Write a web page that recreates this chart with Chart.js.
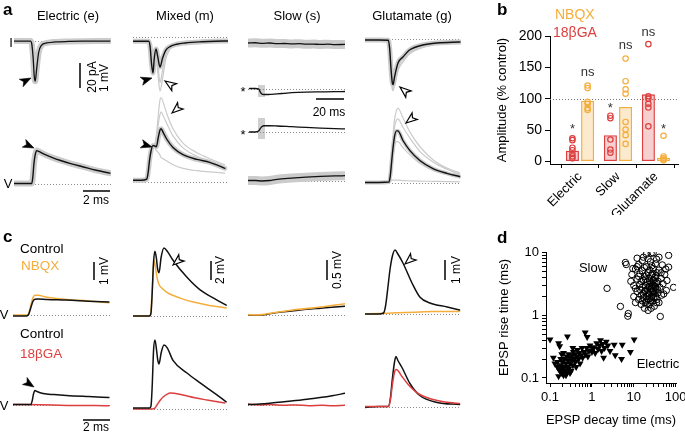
<!DOCTYPE html>
<html lang="en">
<head>
<meta charset="UTF-8">
<title>Electric and chemical EPSPs</title>
<script src="https://cdn.jsdelivr.net/npm/chart.js"></script>
<style>
  body { margin: 0; width: 685px; height: 432px; position: relative; overflow: hidden; background: #fff;
         font-family: "Liberation Sans", Arial, sans-serif; color: #000; }
  canvas { position: absolute; z-index: 1; }
  svg { position: absolute; left: 0; top: 0; }
  .t { position: absolute; white-space: nowrap; font-size: 13px; line-height: 1; z-index: 3; transform: translate(-50%, -50%); }
  .t.l { transform: translate(0, -50%); }
  .t.r { transform: translate(-50%, -50%) rotate(-90deg); font-size: 12px; }
  .p { position: absolute; font-weight: bold; font-size: 17px; line-height: 1; z-index: 3; }
</style>
</head>
<body>
<svg width="685" height="432" style="z-index:0">
  <rect x="258" y="85" width="7" height="12" fill="#cfcfcf"/>
  <rect x="258" y="118" width="7" height="21" fill="#cfcfcf"/>
</svg>
<svg id="over" width="685" height="432" style="z-index:2">
  <g stroke="#000" stroke-width="1.5">
    <line x1="80" y1="63" x2="80" y2="88"/>
    <line x1="83" y1="191" x2="110" y2="191"/>
    <line x1="316" y1="99" x2="344" y2="99"/>
    <line x1="94" y1="262" x2="94" y2="280"/>
    <line x1="211" y1="261" x2="211" y2="280"/>
    <line x1="327" y1="260" x2="327" y2="280"/>
    <line x1="445" y1="260" x2="445" y2="280"/>
    <line x1="83" y1="420" x2="110" y2="420"/>
  </g>
</svg>

<!-- panel a -->
<div class="p" style="left:3px;top:1px">a</div>
<div class="t" style="left:68px;top:15px">Electric (e)</div>
<div class="t" style="left:185px;top:15px">Mixed (m)</div>
<div class="t" style="left:297px;top:15px">Slow (s)</div>
<div class="t" style="left:412px;top:15px">Glutamate (g)</div>
<div class="t" style="left:11px;top:42px">I</div>
<div class="t" style="left:8px;top:183px">V</div>
<div class="t r" style="left:92px;top:77px">20 pA</div>
<div class="t r" style="left:104px;top:78px">1 mV</div>
<div class="t" style="left:96px;top:200px;font-size:12px">2 ms</div>
<div class="t" style="left:243px;top:91px">*</div>
<div class="t" style="left:243px;top:134px">*</div>
<div class="t" style="left:329px;top:112px;font-size:12px">20 ms</div>

<!-- panel b -->
<div class="p" style="left:497px;top:1px">b</div>
<div class="t l" style="left:555px;top:14px;font-size:14px;color:#f5ad3c">NBQX</div>
<div class="t l" style="left:553px;top:32px;font-size:14px;color:#dd3f3f">18βGA</div>

<!-- panel c -->
<div class="p" style="left:3px;top:228px">c</div>
<div class="t l" style="left:20px;top:249px;font-size:13.5px">Control</div>
<div class="t l" style="left:21px;top:266px;font-size:13.5px;color:#f5ad3c">NBQX</div>
<div class="t l" style="left:20px;top:334px;font-size:13.5px">Control</div>
<div class="t l" style="left:20px;top:354px;font-size:13.5px;color:#dd3f3f">18βGA</div>
<div class="t" style="left:4px;top:314px">V</div>
<div class="t" style="left:4px;top:405px">V</div>
<div class="t r" style="left:104px;top:271px">1 mV</div>
<div class="t r" style="left:220px;top:270px">2 mV</div>
<div class="t r" style="left:337px;top:270px">0.5 mV</div>
<div class="t r" style="left:456px;top:270px">1 mV</div>
<div class="t" style="left:96px;top:427px;font-size:12px">2 ms</div>

<!-- panel d -->
<div class="p" style="left:497px;top:229px">d</div>
<div class="t" style="left:593px;top:267px">Slow</div>
<div class="t" style="left:658px;top:363px">Electric</div>

<script>
// ---------- data: panel a (time in ms, current in pA, voltage in mV) ----------
const aElecI_t = [0, 1.2, 1.3, 1.4, 1.48, 1.55, 1.65, 1.8, 2.0, 2.4, 3, 4, 5, 6, 7];
const aElecI_v = [-0.5, -0.5, -3, -15, -30, -34, -24, -10, -4, -2, -1.2, -0.8, -0.6, -0.5, -0.5];
const aElecV_t = [0, 1.3, 1.38, 1.45, 1.55, 1.65, 1.8, 2.2, 2.8, 3.4, 4.2, 5, 6, 7];
const aElecV_v = [0, 0, 0.3, 0.8, 1.2, 1.37, 1.34, 1.22, 1.08, 0.96, 0.82, 0.7, 0.55, 0.43];

const aMixI_t  = [0, 1.15, 1.25, 1.35, 1.46, 1.55, 1.68, 1.8, 1.97, 2.15, 2.4, 2.7, 3.2, 3.8, 5, 6, 7];
const aMixI_v  = [-3.5, -3.5, -8, -22, -30, -18, -10, -16, -25, -18, -11, -8, -6, -5, -4, -3.5, -3.3];
const aMixI_g1 = [-3, -3, -7, -20, -28, -20, -15, -28, -45, -35, -18, -10, -6, -5, -4, -3.5, -3];
const aMixI_g2 = [-3, -3, -6, -18, -26, -15, -9, -20, -38, -28, -14, -8, -5, -4.5, -4, -3, -3];
const aMixV_t  = [0, 0.6, 1.0, 1.1, 1.2, 1.31, 1.46, 1.6, 1.7, 1.85, 1.97, 2.05, 2.2, 2.48, 2.92, 3.65, 4.67, 5.6, 6.7];
const aMixV_v  = [0.05, 0.05, 0.1, 0.35, 0.85, 1.25, 1.5, 1.48, 1.45, 1.85, 2.15, 2.2, 2.05, 1.75, 1.42, 1.12, 0.92, 0.8, 0.55];
const aMixV_g1 = [0.05, 0.05, 0.1, 0.35, 0.85, 1.25, 1.5, 1.6, 1.9, 2.8, 3.4, 3.5, 3.3, 2.8, 2.2, 1.6, 1.2, 0.95, 0.7];
const aMixV_g2 = [0.05, 0.05, 0.1, 0.3, 0.8, 1.2, 1.45, 1.5, 1.7, 2.4, 2.8, 2.9, 2.75, 2.4, 1.9, 1.4, 1.05, 0.85, 0.6];
const aMixV_g3 = [0.05, 0.05, 0.1, 0.3, 0.8, 1.2, 1.45, 1.4, 1.3, 1.2, 1.1, 1.0, 0.95, 0.85, 0.7, 0.55, 0.45, 0.4, 0.35];

const aSlowI_t  = [0, 5, 10, 15, 20, 25, 30, 35, 40, 45, 50, 55, 60, 67];
const aSlowI_v  = [0, 0.2, -0.3, 0, -0.5, -0.4, -0.8, -0.6, -1, -0.9, -1.2, -1, -1.3, -1.2];
const aStarI_t  = [1, 5, 7.5, 8.5, 9.5, 11, 14, 20, 25, 30, 40, 50, 60, 67];
const aStarI_v  = [0, 0, -0.5, -3, -4.5, -5, -5, -4.5, -4, -3.5, -3, -2.8, -2.6, -2.5];
const aStarV_t  = [1, 5, 7.5, 8.5, 9.5, 11, 14, 20, 30, 40, 50, 60, 67];
const aStarV_v  = [0, 0, 0.05, 0.15, 0.22, 0.26, 0.26, 0.25, 0.22, 0.19, 0.16, 0.14, 0.13];
const aSlowV_t  = [0, 5, 10, 15, 20, 30, 40, 50, 60, 67];
const aSlowV_v  = [0, 0, -0.02, 0, 0.05, 0.1, 0.14, 0.17, 0.19, 0.2];

const aGluI_t  = [0, 1.0, 1.7, 1.8, 1.9, 2.0, 2.05, 2.15, 2.41, 2.77, 3.28, 4.23, 5.26, 6.93];
const aGluI_v  = [-0.8, -0.8, -1, -8, -25, -37, -38, -32, -20, -15, -9, -5, -3.3, -2.5];
const aGluI_g1 = [-0.8, -0.8, -1, -10, -30, -42, -43, -38, -26, -19, -12, -7, -4, -3];
const aGluV_t  = [0, 1.0, 1.75, 1.85, 2.0, 2.15, 2.3, 2.4, 2.77, 3.28, 4.0, 4.96, 5.98, 6.9];
const aGluV_v  = [0, 0, 0.02, 0.3, 1.2, 1.9, 2.15, 2.15, 1.75, 1.33, 0.92, 0.58, 0.38, 0.25];
const aGluV_g1 = [0, 0, 0.02, 0.4, 1.6, 2.6, 3.0, 3.1, 2.7, 2.1, 1.5, 0.95, 0.6, 0.4];
const aGluV_g2 = [0, 0, 0.02, 0.35, 1.4, 2.3, 2.6, 2.65, 2.3, 1.85, 1.3, 0.85, 0.55, 0.35];
const aGluV_g3 = [0, 0, 0.02, 0.3, 1.0, 1.5, 1.7, 1.7, 1.45, 1.15, 0.8, 0.5, 0.35, 0.25];
const aGluV_g4 = [0, 0, 0, 0.05, 0.1, 0.1, 0.1, 0.1, 0.08, 0.07, 0.06, 0.05, 0.04, 0.03];

// ---------- data: panel c (mV) ----------
const cElecTop_t  = [0, 1.0, 1.15, 1.3, 1.45, 1.6, 1.8, 2.5, 3.9, 5.5, 7];
const cElecTop_c  = [-0.05, -0.05, 0.05, 0.4, 0.75, 0.88, 0.89, 0.86, 0.83, 0.77, 0.72];
const cElecTop_n  = [0, 0, 0.1, 0.55, 0.95, 1.1, 1.1, 0.98, 0.86, 0.78, 0.68];
const cElecBot_t  = [0, 1.3, 1.4, 1.5, 1.6, 1.75, 2.2, 3, 3.9, 5.5, 7];
const cElecBot_c  = [0, 0, 0.2, 0.6, 0.78, 0.72, 0.61, 0.55, 0.5, 0.44, 0.39];
const cElecBot_gt = [0, 2, 4, 6, 7];
const cElecBot_g  = [0, -0.02, -0.05, -0.06, -0.07];

const cMix_t      = [0, 1.2, 1.31, 1.4, 1.5, 1.6, 1.7, 1.8, 1.9, 2.05, 2.26, 2.5, 2.92, 3.94, 4.9, 6.1, 6.8];
const cMixTop_c   = [0, 0, 0.3, 2.5, 6, 7.2, 6.5, 5.2, 4.8, 6.5, 7.55, 7.2, 6.2, 4.3, 2.9, 1.8, 1.2];
const cMixTop_nt  = [0, 1.2, 1.31, 1.4, 1.53, 1.65, 1.75, 1.9, 2.1, 2.5, 2.9, 3.6, 4.4, 5.5, 6.8];
const cMixTop_n   = [0, 0, 0.4, 3, 6.2, 5.3, 4.3, 3.5, 3.1, 2.6, 2.3, 1.9, 1.55, 1.2, 0.9];
const cMixBot_c   = [0.1, 0.1, 0.3, 2.5, 6.5, 7.67, 6.8, 5.5, 5.0, 6.2, 7.1, 6.8, 5.4, 4.0, 2.9, 1.6, 0.8];
const cMixBot_gt  = [0, 1.4, 1.6, 1.75, 2.0, 2.2, 2.5, 2.7, 3.0, 3.65, 4.5, 5.4, 6.7];
const cMixBot_g   = [0, 0, 0.1, 0.44, 1.0, 1.33, 1.65, 1.78, 1.75, 1.55, 1.25, 1.0, 0.67];

const cSlowTop_t  = [0, 5, 10, 15, 20, 30, 40, 50, 60, 67];
const cSlowTop_c  = [0, -0.01, 0, 0.03, 0.06, 0.1, 0.14, 0.17, 0.2, 0.22];
const cSlowTop_n  = [0.01, 0, 0.01, 0.04, 0.07, 0.12, 0.16, 0.2, 0.25, 0.28];
const cSlowBot_t  = [0, 8, 15, 25, 33, 42, 51, 58, 67];
const cSlowBot_c  = [0, 0.01, 0.03, 0.07, 0.1, 0.14, 0.18, 0.22, 0.28];
const cSlowBot_g  = [0.01, -0.01, 0, -0.02, -0.01, -0.03, -0.02, -0.03, -0.02];

const cGluTop_t   = [0, 1.0, 1.35, 1.5, 1.7, 1.82, 2.0, 2.19, 2.4, 2.77, 3.43, 4.0, 4.74, 6.0, 6.9];
const cGluTop_c   = [0, 0, 0.05, 0.4, 1.5, 2.2, 2.9, 3.2, 3.0, 2.55, 1.55, 0.85, 0.55, 0.35, 0.2];
const cGluTop_nt  = [0, 1, 2, 3, 4, 5, 6, 6.9];
const cGluTop_n   = [0, 0.02, 0.05, 0.08, 0.1, 0.12, 0.12, 0.13];
const cGluBot_t   = [0, 1.0, 1.7, 1.85, 2.0, 2.15, 2.26, 2.4, 2.7, 3.28, 4.0, 5.26, 6.9];
const cGluBot_c   = [-0.05, 0, 0, 0.4, 1.4, 2.2, 2.5, 2.3, 1.95, 1.15, 0.55, 0.2, 0.1];
const cGluBot_g   = [0, 0, 0, 0.3, 1.1, 1.7, 1.85, 1.8, 1.5, 1.0, 0.6, 0.3, 0.15];

// ---------- data: panel b (% control) ----------
const bCategories = ['Electric', 'Slow', 'Glutamate'];
const bGA         = [17, 42, 107];
const bNBQX       = [97, 87, 6];
const bGAPoints   = [[37, 34, 22, 18, 12, 8, 5], [73, 69, 35, 19, 14], [187, 104, 100, 92, 86, 56]];
const bNBQXPoints = [[121, 117, 95, 92, 85, 82], [164, 128, 115, 108, 63, 51, 42, 28], [41, 8, 5, 3, 2]];
const bSig        = [['*', 'ns'], ['*', 'ns'], ['ns', '*']];
const bSigAt      = [[46, 136], [79, 179], [200, 45]];
const bTicks      = [0, 50, 100, 150, 200];

// ---------- data: panel d (decay ms, rise ms) ----------
const dSlow = [[2.3,2.7],[4.8,1.39],[7.4,1.07],[7.2,0.97],[43,0.96],[6.3,7],[6.6,6.5],[20,9.5],[26,9.8],[29,10],
  [68,9.1],[17,8.5],[89,2.8],[68,5.9],
  [9,4.5],[10,3],[10,2],[11,5.5],[11,1.6],[12,3.8],[12,2.4],[13,6.5],[13,1.8],[14,3.1],[14,4.6],[15,2.1],[15,1.5],
  [16,2.8],[16,5.2],[17,3.6],[17,1.9],[18,2.4],[18,4.2],[19,1.6],[19,3],[20,2],[20,6],[21,3.4],[21,2.6],[22,1.8],
  [22,4.8],[23,2.2],[23,3.9],[24,1.5],[24,2.9],[25,7.2],[25,2.4],[26,3.3],[26,1.9],[27,4.4],[27,2.7],[28,1.7],
  [28,3.1],[29,5.6],[29,2.2],[30,2.5],[30,3.7],[31,1.4],[31,2.9],[32,4.1],[33,2],[33,6.7],[34,2.6],[35,3.3],
  [36,1.8],[36,4.8],[38,2.3],[38,3.5],[40,5.3],[40,1.6],[42,2.8],[45,3.9],[46,2.1],[48,6.4],[50,3.2],[55,4.5],
  [60,2.5],[62,3.6],[14,2.6],[17,2.2],[19,3.8],[21,1.5],[23,2.9],[25,1.7],[27,2],[29,3.6],[31,2.3],[33,2.8],
  [35,1.6],[18,1.3],[22,1.2],[26,1.3],[30,1.9],[16,7.5],[22,8],[12,8.2],[35,7.9],[40,8.5],[12,6],[9.5,5.6],
  [8.5,3.5],[45,4.8],[52,2.2],[58,5.5],[20,4.4],[24,5.3],[18,5.8],[15,3.5],[13,4.2],[28,4.7],[32,3.3],[37,2.6],
  [11,2.7],[20,1.7],[24,3.5],[26,2.6],[28,2.4],[30,3],[22,2.3],[19,2.5],[34,4.3],[27,6.2],[16,1.7]];
const dElectric = [[0.1,0.41],[0.16,0.36],[0.26,0.46],[0.69,0.53],[0.77,0.45],[1.6,0.4],[3.4,0.34],[5.3,0.34],
  [10.2,0.41],[8.3,0.26],[5.1,0.2],[3.6,0.23],[1.9,0.21],[1.07,0.29],[0.16,0.106],[0.15,0.18],[0.17,0.32],
  [0.15,0.15],[0.17,0.13],[0.18,0.16],[0.19,0.12],[0.2,0.14],[0.2,0.18],[0.21,0.11],[0.22,0.15],[0.22,0.2],
  [0.23,0.13],[0.24,0.17],[0.25,0.12],[0.25,0.22],[0.26,0.15],[0.27,0.19],[0.28,0.14],[0.28,0.24],[0.3,0.17],
  [0.3,0.21],[0.32,0.13],[0.33,0.19],[0.34,0.23],[0.35,0.16],[0.36,0.26],[0.38,0.2],[0.4,0.18],[0.4,0.24],
  [0.42,0.15],[0.44,0.22],[0.45,0.28],[0.48,0.2],[0.5,0.25],[0.52,0.17],[0.55,0.23],[0.58,0.3],[0.6,0.21],
  [0.65,0.26],[0.7,0.24],[0.75,0.3],[0.8,0.22],[0.85,0.27],[0.9,0.33],[1.0,0.26],[1.1,0.31],[1.2,0.25],
  [1.3,0.36],[1.4,0.29],[1.5,0.33],[1.7,0.27],[1.8,0.35],[2.0,0.3],[2.2,0.38],[2.4,0.33],[2.7,0.27],
  [0.13,0.17],[0.18,0.2],[0.24,0.11],[0.3,0.12],[0.21,0.25],[0.16,0.14],[0.19,0.24],[0.35,0.3],[0.12,0.21]];
const dTicksX = [0.1, 1, 10, 100];
const dTicksY = [0.1, 1, 10];

// ---------- styling ----------
const BLACK = '#111', GRAY = '#cbcbcb', ORANGE = '#f5ad3c', RED = '#dd3f3f';
const FAST = 13.7, SLOW = 1.45;   // px per ms
Chart.defaults.font.family = '"Liberation Sans", Arial, sans-serif';
Chart.defaults.font.size = 13;
Chart.defaults.color = '#000';
Chart.defaults.animation = false;
Chart.defaults.responsive = false;
Chart.defaults.events = [];
Chart.defaults.plugins.legend.display = false;
Chart.defaults.plugins.tooltip.enabled = false;

function addCanvas(left, top, w, h) {
  const cv = document.createElement('canvas');
  cv.width = w; cv.height = h;
  cv.style.cssText = `left:${left}px;top:${top}px;width:${w}px;height:${h}px`;
  document.body.appendChild(cv);
  return cv;
}

const baseline = {
  id: 'baseline',
  beforeDatasetsDraw(chart) {
    const y = Math.round(chart.scales.y.getPixelForValue(0)) + 0.5;
    const ctx = chart.ctx;
    ctx.save();
    ctx.strokeStyle = '#8a8a8a';
    ctx.lineWidth = 1;
    ctx.setLineDash([1, 2]);
    ctx.beginPath();
    ctx.moveTo(chart.chartArea.left, y);
    ctx.lineTo(chart.chartArea.right, y);
    ctx.stroke();
    ctx.restore();
  }
};

function line(t, v, color, width) {
  return { t: t, v: v, c: color, w: width };
}

// box = [left, top, width, height]; base = pixel row of zero
function trace(box, pxPerMs, pxPerUnit, base, lines) {
  const [left, top, w, h] = box;
  const cv = addCanvas(left, top, w, h);
  new Chart(cv, {
    type: 'line',
    data: {
      datasets: lines.map(l => ({
        data: l.t.map((x, i) => ({ x: x, y: l.v[i] })),
        borderColor: l.c, borderWidth: l.w, pointRadius: 0,
        cubicInterpolationMode: 'monotone', borderJoinStyle: 'round', borderCapStyle: 'round',
        fill: false, clip: false
      }))
    },
    options: {
      layout: { padding: 0 },
      scales: {
        x: { type: 'linear', display: false, min: 0, max: w / pxPerMs },
        y: { type: 'linear', display: false, min: -(top + h - base) / pxPerUnit, max: (base - top) / pxPerUnit }
      }
    },
    plugins: [baseline]
  });
}

// panel a
trace([14, 28, 97, 62], FAST, 1.2, 40.5, [
  line(aElecI_t, aElecI_v, BLACK, 1.3), line(aElecI_t, aElecI_v, GRAY, 6)]);
trace([14, 135, 97, 55], FAST, 24, 183.5, [
  line(aElecV_t, aElecV_v, BLACK, 1.4), line(aElecV_t, aElecV_v, GRAY, 6)]);
trace([133, 28, 95, 75], FAST, 1.2, 37, [
  line(aMixI_t, aMixI_v, BLACK, 1.4), line(aMixI_t, aMixI_g1, GRAY, 1.3),
  line(aMixI_t, aMixI_g2, GRAY, 1.3), line(aMixI_t, aMixI_v, GRAY, 5)]);
trace([133, 90, 95, 100], FAST, 24, 181.5, [
  line(aMixV_t, aMixV_v, BLACK, 1.4), line(aMixV_t, aMixV_g1, GRAY, 1.2), line(aMixV_t, aMixV_g2, GRAY, 1.2),
  line(aMixV_t, aMixV_g3, GRAY, 1.2), line(aMixV_t, aMixV_v, GRAY, 5)]);
trace([248, 30, 97, 25], SLOW, 1.2, 43, [
  line(aSlowI_t, aSlowI_v, BLACK, 1.3), line(aSlowI_t, aSlowI_v, GRAY, 9)]);
trace([248, 78, 97, 22], SLOW, 1.2, 88.5, [line(aStarI_t, aStarI_v, BLACK, 1.3)]);
trace([248, 116, 97, 22], SLOW, 24, 132, [line(aStarV_t, aStarV_v, BLACK, 1.3)]);
trace([248, 165, 97, 25], SLOW, 24, 180.5, [
  line(aSlowV_t, aSlowV_v, BLACK, 1.3), line(aSlowV_t, aSlowV_v, GRAY, 9)]);
trace([365, 28, 96, 75], FAST, 1.2, 39, [
  line(aGluI_t, aGluI_v, BLACK, 1.4), line(aGluI_t, aGluI_g1, GRAY, 1.5), line(aGluI_t, aGluI_v, GRAY, 5)]);
trace([365, 95, 96, 95], FAST, 24, 182.5, [
  line(aGluV_t, aGluV_v, BLACK, 1.4), line(aGluV_t, aGluV_g1, GRAY, 1.2), line(aGluV_t, aGluV_g2, GRAY, 1.2),
  line(aGluV_t, aGluV_g3, GRAY, 1.2), line(aGluV_t, aGluV_g4, GRAY, 1.2), line(aGluV_t, aGluV_v, GRAY, 4)]);

// panel c
trace([13, 285, 97, 40], FAST, 18, 315, [
  line(cElecTop_t, cElecTop_c, BLACK, 1.5), line(cElecTop_t, cElecTop_n, ORANGE, 1.5)]);
trace([13, 375, 97, 40], FAST, 18, 404.5, [
  line(cElecBot_t, cElecBot_c, BLACK, 1.5), line(cElecBot_gt, cElecBot_g, RED, 1.5)]);
trace([133, 240, 95, 85], FAST, 9, 316, [
  line(cMix_t, cMixTop_c, BLACK, 1.5), line(cMixTop_nt, cMixTop_n, ORANGE, 1.5)]);
trace([133, 330, 95, 90], FAST, 9, 409, [
  line(cMix_t, cMixBot_c, BLACK, 1.5), line(cMixBot_gt, cMixBot_g, RED, 1.5)]);
trace([248, 290, 97, 35], SLOW, 40, 315, [
  line(cSlowTop_t, cSlowTop_n, ORANGE, 1.6), line(cSlowTop_t, cSlowTop_c, BLACK, 1.4)]);
trace([248, 380, 97, 35], SLOW, 40, 404.5, [
  line(cSlowBot_t, cSlowBot_c, BLACK, 1.5), line(cSlowBot_t, cSlowBot_g, RED, 1.5)]);
trace([365, 240, 96, 85], FAST, 20, 314, [
  line(cGluTop_t, cGluTop_c, BLACK, 1.5), line(cGluTop_nt, cGluTop_n, ORANGE, 1.5)]);
trace([365, 340, 96, 80], FAST, 20, 406.5, [
  line(cGluBot_t, cGluBot_g, RED, 1.5), line(cGluBot_t, cGluBot_c, BLACK, 1.5)]);

// arrowheads (tip x, tip y, pointing angle in degrees, open)
const arrows = [[31, 78, -27, false], [34, 148, 25, false], [152, 78, -17, false], [165, 81, 214, true],
  [152, 147, 17, false], [172, 113, 139, true], [400, 87, 220, true], [406, 123, 142, true],
  [173, 265, 140, true], [405, 264, 139, true], [34, 387, 33, false]];
const svg = document.getElementById('over');
arrows.forEach(([x, y, ang, open]) => {
  const a = ang * Math.PI / 180, L = 11, W = 4.2;
  const dx = Math.cos(a), dy = Math.sin(a);
  const bx = x - L * dx, by = y - L * dy;
  const pts = [[x, y], [bx - dy * W, by + dx * W], [x - 0.75 * L * dx, y - 0.75 * L * dy], [bx + dy * W, by - dx * W]];
  const p = document.createElementNS('http://www.w3.org/2000/svg', 'polygon');
  p.setAttribute('points', pts.map(q => q.join(',')).join(' '));
  p.setAttribute('fill', open ? '#fff' : '#000');
  p.setAttribute('stroke', '#000');
  p.setAttribute('stroke-width', open ? 1.2 : 0.6);
  p.setAttribute('stroke-linejoin', 'miter');
  svg.appendChild(p);
});

// panel b
const OFF = 0.2;
const bDots = (sets, side) => sets.flatMap((vals, i) => vals.map(v => ({ x: i + 1 + side * OFF, y: v })));
const bAnnot = {
  id: 'bAnnot',
  beforeDatasetsDraw(chart) {
    const { ctx, chartArea, scales: { y } } = chart;
    ctx.save();
    const yy = Math.round(y.getPixelForValue(100)) + 0.5;
    ctx.strokeStyle = '#777'; ctx.lineWidth = 1; ctx.setLineDash([1, 2]);
    ctx.beginPath(); ctx.moveTo(chartArea.left, yy); ctx.lineTo(chartArea.right, yy); ctx.stroke();
    ctx.restore();
  },
  afterDatasetsDraw(chart) {
    const { ctx, scales: { x, y } } = chart;
    ctx.save();
    ctx.fillStyle = '#333'; ctx.font = '13px "Liberation Sans", Arial, sans-serif';
    ctx.textAlign = 'center'; ctx.textBaseline = 'alphabetic';
    bSig.forEach((pair, i) => pair.forEach((s, k) => {
      ctx.fillText(s, x.getPixelForValue(i + 1 + (k ? OFF : -OFF)), y.getPixelForValue(bSigAt[i][k]));
    }));
    ctx.restore();
  }
};
new Chart(addCanvas(491, 0, 194, 215), {
  type: 'bar',
  data: {
    datasets: [
      { type: 'scatter', data: bDots(bGAPoints, -1), pointRadius: 2.7, pointBorderWidth: 1.2,
        borderColor: RED, backgroundColor: 'rgba(0,0,0,0)' },
      { type: 'scatter', data: bDots(bNBQXPoints, 1), pointRadius: 2.7, pointBorderWidth: 1.2,
        borderColor: ORANGE, backgroundColor: 'rgba(0,0,0,0)' },
      { type: 'bar', data: bGA.map((v, i) => ({ x: i + 1, y: v })), backgroundColor: 'rgba(221,63,63,0.25)',
        borderColor: RED, borderWidth: 1.3, borderSkipped: false, categoryPercentage: 0.8, barPercentage: 0.86 },
      { type: 'bar', data: bNBQX.map((v, i) => ({ x: i + 1, y: v })), backgroundColor: 'rgba(245,173,60,0.25)',
        borderColor: ORANGE, borderWidth: 1.3, borderSkipped: false, categoryPercentage: 0.8, barPercentage: 0.86 }
    ]
  },
  options: {
    layout: { padding: { top: 36, right: 7, left: 0, bottom: 0 } },
    scales: {
      x: {
        type: 'linear', min: 0.21, max: 3.58, offset: false,
        afterBuildTicks: s => { s.ticks = bCategories.map((c, i) => ({ value: i + 1 })); },
        afterFit: s => { s.height = 51; },
        grid: { drawOnChartArea: false, tickLength: 4, color: '#000' },
        border: { color: '#000', width: 1 },
        ticks: { callback: v => bCategories[v - 1], minRotation: 45, maxRotation: 45, padding: 1, font: { size: 13 } }
      },
      y: {
        min: -4, max: 200,
        afterBuildTicks: s => { s.ticks = bTicks.map(v => ({ value: v })); },
        afterFit: s => { s.width = 59; },
        grid: { drawOnChartArea: false, tickLength: 5, color: '#000' },
        border: { color: '#000', width: 1 },
        ticks: { padding: 3, font: { size: 14 } },
        title: { display: true, text: 'Amplitude (% control)', font: { size: 13 }, padding: { top: 4, bottom: 0 } }
      }
    }
  },
  plugins: [bAnnot]
});

// panel d
const logTicks = (lo, hi) => {
  const out = [];
  for (let e = lo; e < hi; e++) for (let k = 1; k < 10; k++) out.push(k * Math.pow(10, e));
  out.push(Math.pow(10, hi));
  return out;
};
const logLabel = list => v => {
  const hit = list.find(t => Math.abs(t - v) < t * 1e-6);
  return hit === undefined ? '' : String(hit);
};
new Chart(addCanvas(493, 230, 192, 202), {
  type: 'scatter',
  data: {
    datasets: [
      { data: dElectric.map(p => ({ x: p[0], y: p[1] })), pointStyle: 'triangle', pointRotation: 180,
        pointRadius: 4, pointBorderWidth: 0, backgroundColor: '#000', borderColor: '#000' },
      { data: dSlow.map(p => ({ x: p[0], y: p[1] })), pointStyle: 'circle', pointRadius: 3.2,
        pointBorderWidth: 1, backgroundColor: 'rgba(0,0,0,0)', borderColor: '#000' }
    ]
  },
  options: {
    layout: { padding: { top: 22, right: 9, left: 0, bottom: 0 } },
    scales: {
      x: {
        type: 'logarithmic', min: 0.08, max: 102,
        afterBuildTicks: s => { s.ticks = logTicks(-1, 2).map(v => ({ value: v })); },
        afterFit: s => { s.height = 49; s.paddingRight = 0; s.paddingLeft = 0; },
        grid: { drawOnChartArea: false, tickLength: 4, color: '#000' },
        border: { color: '#000', width: 1 },
        ticks: { autoSkip: false, maxRotation: 0, callback: logLabel(dTicksX), padding: 3, font: { size: 13 } },
        title: { display: true, text: 'EPSP decay time (ms)', font: { size: 13 }, padding: { top: 0, bottom: 4 } }
      },
      y: {
        type: 'logarithmic', min: 0.083, max: 10.3,
        afterBuildTicks: s => { s.ticks = logTicks(-1, 1).map(v => ({ value: v })); },
        afterFit: s => { s.width = 53; },
        grid: { drawOnChartArea: false, tickLength: 4, color: '#000' },
        border: { color: '#000', width: 1 },
        ticks: { autoSkip: false, callback: logLabel(dTicksY), padding: 3, font: { size: 13 } },
        title: { display: true, text: 'EPSP rise time (ms)', font: { size: 13 }, padding: { top: 4, bottom: 0 } }
      }
    }
  }
});
</script>
</body>
</html>
